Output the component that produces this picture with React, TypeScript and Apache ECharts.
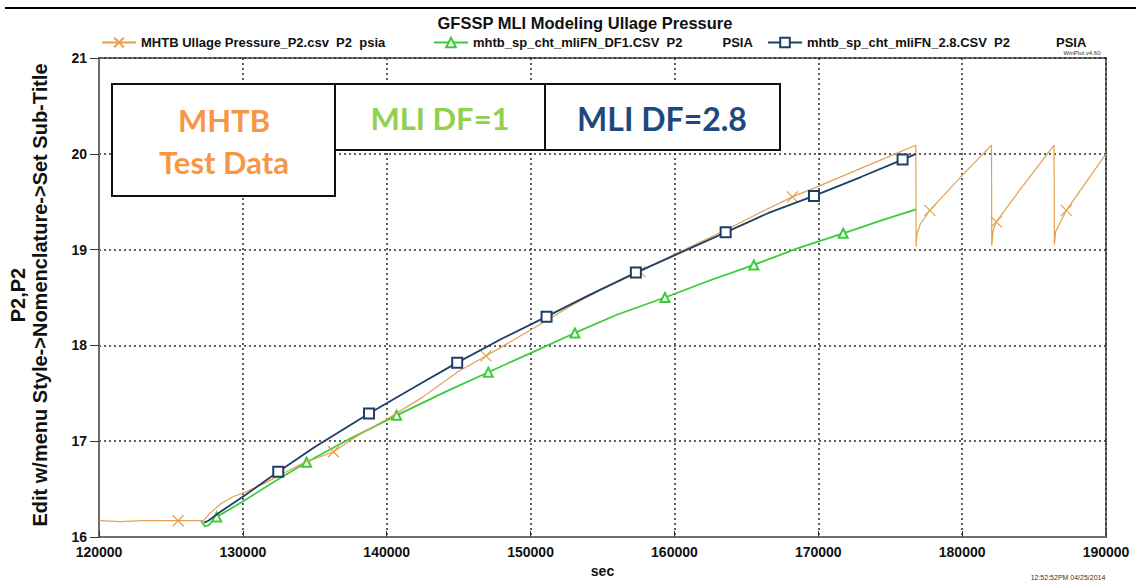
import React, { useEffect, useRef } from "react";
import * as echarts from "echarts";

// ---- data (time in sec, pressure in psia) ----
const mhtbData: [number, number][] = [
  [120000, 16.17], [121500, 16.16], [123000, 16.17], [125500, 16.17], [127250, 16.17],
  [127800, 16.26], [128500, 16.35], [129300, 16.42], [130200, 16.47], [131500, 16.56],
  [132500, 16.64], [134000, 16.76], [136300, 16.89], [138000, 17.06], [140000, 17.23],
  [142500, 17.46], [145000, 17.73], [146900, 17.89], [150000, 18.16], [153000, 18.43],
  [155000, 18.59], [157600, 18.77], [160000, 18.95], [163500, 19.2], [166000, 19.39],
  [168200, 19.55], [170000, 19.66], [173000, 19.85], [176780, 20.09], [176800, 19.03],
  [176850, 19.16], [177100, 19.27], [177750, 19.41], [180100, 19.79], [182040, 20.09],
  [182060, 19.04], [182150, 19.2], [182370, 19.29], [184000, 19.62], [186390, 20.09],
  [186410, 19.05], [186500, 19.19], [187240, 19.41], [190000, 20.0],
];
const mhtbMarkerTimes = [125500, 136300, 146900, 157600, 168200, 177750, 182370, 187240];

const df1Data: [number, number][] = [
  [127100, 16.17], [127350, 16.11], [127600, 16.12], [128180, 16.21], [130000, 16.37],
  [132000, 16.56], [134430, 16.78], [137500, 17.03], [140690, 17.27], [144000, 17.51],
  [147060, 17.72], [150000, 17.92], [153080, 18.13], [156000, 18.32], [159340, 18.5],
  [162500, 18.68], [165520, 18.84], [168500, 19.01], [171730, 19.17], [174500, 19.31],
  [176800, 19.42],
];
const df1MarkerTimes = [128180, 134430, 140690, 147060, 153080, 159340, 165520, 171730];

const df28Data: [number, number][] = [
  [127300, 16.15], [127600, 16.17], [128500, 16.27], [130000, 16.42], [132460, 16.68],
  [135000, 16.94], [138770, 17.29], [142000, 17.57], [144900, 17.82], [148000, 18.07],
  [151110, 18.3], [154000, 18.52], [157320, 18.76], [160000, 18.94], [163560, 19.18],
  [166500, 19.38], [169700, 19.56], [173000, 19.76], [175860, 19.94], [176800, 20.0],
];
const df28MarkerTimes = [132460, 138770, 144900, 151110, 157320, 163560, 169700, 175860];

const seriesNames = [
  "MHTB Ullage Pressure_P2.csv  P2  psia",
  "mhtb_sp_cht_mliFN_DF1.CSV  P2",
  "mhtb_sp_cht_mliFN_2.8.CSV  P2",
];
const unitLabel = "PSIA";
const xTicks = { min: 120000, max: 190000, interval: 10000 };
const yTicks = { min: 16, max: 21, interval: 1 };

const ORANGE = "#E3A04F";
const GREEN = "#3CCB3C";
const BLUE = "#1E3F66";
const FONT = "'Liberation Sans', Arial, sans-serif";
const BOXFONT = "Lato, 'Open Sans', sans-serif";
const XSYM = "path://M0,0L10,10M10,0L0,10";

function build(data: [number, number][], markers: number[], symbol: string, size: number) {
  const set = new Set(markers);
  return data.map(([x, y]) =>
    set.has(x) ? { value: [x, y], symbol, symbolSize: size } : { value: [x, y], symbol: "none" }
  );
}

const legendText = { fontFamily: FONT, fontSize: 13, fontWeight: "bold", color: "#111" };

export default function App() {
  const ref = useRef<HTMLDivElement>(null);
  useEffect(() => {
    if (!ref.current) return;
    const chart = echarts.init(ref.current, null, { renderer: "svg" });
    const grid = "#2b2b2b";
    chart.setOption({
      animation: false,
      backgroundColor: "#ffffff",
      title: {
        text: "GFSSP MLI Modeling Ullage Pressure",
        left: 580,
        textAlign: "center",
        top: 9,
        textStyle: { fontFamily: FONT, fontSize: 16.5, fontWeight: "bold", color: "#111" },
      },
      legend: [
        {
          data: [seriesNames[0]], left: 96, top: 31, itemWidth: 34, itemHeight: 12, itemGap: 4,
          textStyle: legendText,
        },
        {
          data: [seriesNames[1]], left: 428, top: 31, itemWidth: 34, itemHeight: 12,
          formatter: (n: string) => `{n|${n}}{u|${unitLabel}}`,
          textStyle: { ...legendText, rich: { n: legendText, u: { ...legendText, padding: [0, 0, 0, 40] } } },
        },
        {
          data: [seriesNames[2]], left: 762, top: 31, itemWidth: 34, itemHeight: 12,
          formatter: (n: string) => `{n|${n}}{u|${unitLabel}}`,
          textStyle: { ...legendText, rich: { n: legendText, u: { ...legendText, padding: [0, 0, 0, 46] } } },
        },
      ],
      grid: {
        left: 99, right: 30, top: 58, bottom: 48,
        show: true, borderColor: "#6e6e6e", borderWidth: 2,
      },
      xAxis: {
        type: "value",
        min: xTicks.min, max: xTicks.max, interval: xTicks.interval,
        name: "sec", nameLocation: "middle", nameGap: 26,
        nameTextStyle: { fontFamily: FONT, fontSize: 14, fontWeight: "bold", color: "#111" },
        axisLine: { show: true, lineStyle: { color: "#6e6e6e", width: 2 } },
        axisTick: { show: true, inside: true, length: 6, lineStyle: { color: "#333" } },
        axisLabel: {
          fontFamily: FONT, fontSize: 14, fontWeight: "bold", color: "#111", margin: 8,
          formatter: (v: number) => String(v),
        },
        splitLine: { show: true, lineStyle: { color: grid, type: [2, 3], width: 1.5 } },
      },
      yAxis: {
        type: "value",
        min: yTicks.min, max: yTicks.max, interval: yTicks.interval,
        axisLine: { show: true, lineStyle: { color: "#6e6e6e", width: 2 } },
        axisTick: { show: true, inside: false, length: 9, lineStyle: { color: "#333" } },
        axisLabel: {
          fontFamily: FONT, fontSize: 14, fontWeight: "bold", color: "#111", margin: 12,
          lineHeight: 14,
        },
        splitLine: { show: true, lineStyle: { color: grid, type: [2, 3], width: 1.5 } },
      },
      series: [
        {
          name: seriesNames[0], type: "line", symbol: XSYM, symbolSize: 11, showSymbol: true,
          data: build(mhtbData, mhtbMarkerTimes, XSYM, 11),
          lineStyle: { color: ORANGE, width: 1.2 },
          itemStyle: { color: ORANGE, borderColor: ORANGE, borderWidth: 1.2 },
          z: 3,
        },
        {
          name: seriesNames[1], type: "line", symbol: "emptyTriangle", symbolSize: 9, showSymbol: true,
          data: build(df1Data, df1MarkerTimes, "emptyTriangle", 9),
          lineStyle: { color: GREEN, width: 1.8 },
          itemStyle: { color: GREEN, borderColor: GREEN, borderWidth: 1.2 },
          z: 2,
        },
        {
          name: seriesNames[2], type: "line", symbol: "emptyRect", symbolSize: 10, showSymbol: true,
          data: build(df28Data, df28MarkerTimes, "emptyRect", 10),
          lineStyle: { color: BLUE, width: 1.8 },
          itemStyle: { color: BLUE, borderColor: BLUE, borderWidth: 1.2 },
          z: 4,
        },
      ],
      graphic: [
        { type: "line", shape: { x1: 5, y1: 8, x2: 1136, y2: 8 }, style: { stroke: "#000", lineWidth: 2 } },
        {
          type: "text", x: 1082, y: 53,
          style: { text: "WinPlot v4.60", fontFamily: FONT, fontSize: 6, fill: "#333", align: "center", verticalAlign: "middle" },
        },
        {
          type: "text", x: 1068, y: 577,
          style: { text: "12:52:52PM 04/25/2014", fontFamily: FONT, fontSize: 7, fill: "#333", align: "center", verticalAlign: "middle" },
        },
        {
          type: "text", x: 18, y: 295, rotation: Math.PI / 2,
          style: { text: "P2,P2", fontFamily: FONT, fontSize: 20, fontWeight: "bold", fill: "#111", align: "center", verticalAlign: "middle" },
        },
        {
          type: "text", x: 40, y: 295, rotation: Math.PI / 2,
          style: { text: "Edit w/menu Style->Nomenclature->Set Sub-Title", fontFamily: FONT, fontSize: 20, fontWeight: "bold", fill: "#111", align: "center", verticalAlign: "middle" },
        },
        { type: "rect", shape: { x: 112, y: 84, width: 223, height: 112 }, style: { fill: "#fff", stroke: "#111", lineWidth: 2 }, z: 100 },
        { type: "rect", shape: { x: 335, y: 84, width: 210, height: 66 }, style: { fill: "#fff", stroke: "#111", lineWidth: 2 }, z: 100 },
        { type: "rect", shape: { x: 545, y: 84, width: 235, height: 66 }, style: { fill: "#fff", stroke: "#111", lineWidth: 2 }, z: 100 },
        {
          type: "text", x: 224, y: 141, z: 101,
          style: { text: "MHTB\nTest Data", fontFamily: BOXFONT, fontSize: 31, fontWeight: "bold", lineHeight: 42, fill: "#F79646", align: "center", verticalAlign: "middle" },
        },
        {
          type: "text", x: 440, y: 118, z: 101,
          style: { text: "MLI DF=1", fontFamily: BOXFONT, fontSize: 31, fontWeight: "bold", fill: "#92D050", align: "center", verticalAlign: "middle" },
        },
        {
          type: "text", x: 662, y: 118, z: 101,
          style: { text: "MLI DF=2.8", fontFamily: BOXFONT, fontSize: 32, fontWeight: "bold", fill: "#1F497D", align: "center", verticalAlign: "middle" },
        },
      ],
    });
    return () => chart.dispose();
  }, []);
  return <div ref={ref} style={{ width: 1136, height: 585, position: "absolute", left: 0, top: 0 }} />;
}
